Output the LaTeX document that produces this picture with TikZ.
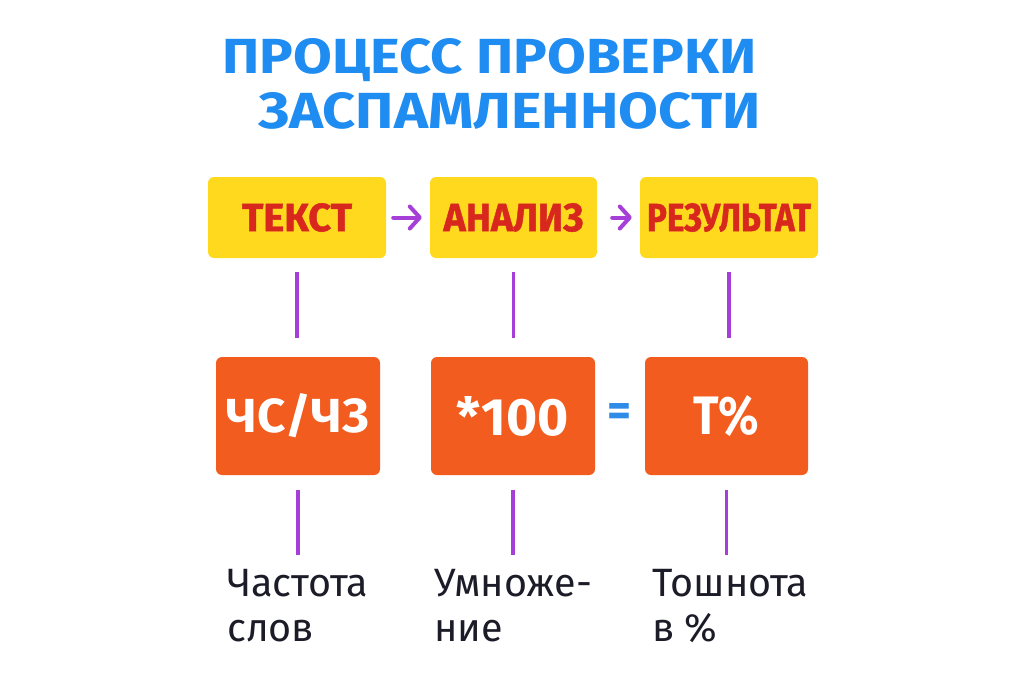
\documentclass[tikz,border=0pt]{standalone}
\usepackage{fontspec}
\setmainfont{Fira Sans}
\usetikzlibrary{arrows.meta}
\definecolor{titleblue}{HTML}{1E8CF0}
\definecolor{boxyellow}{HTML}{FFD91E}
\definecolor{boxred}{HTML}{D8281E}
\definecolor{boxorange}{HTML}{F25C1E}
\definecolor{linepurple}{HTML}{A53FD8}
\definecolor{eqblue}{HTML}{2E8BE8}
\definecolor{labeltext}{HTML}{1C1C28}
\tikzset{
  ybox/.style={fill=boxyellow, rounded corners=6pt, inner sep=0pt, minimum height=81pt, text=boxred, font=\bfseries\addfontfeatures{FakeBold=1.2}},
  obox/.style={fill=boxorange, rounded corners=6pt, inner sep=0pt, minimum height=118pt, minimum width=164pt, text=white, font=\bfseries},
  vline/.style={draw=linepurple, line width=3.5pt},
  harrow/.style={draw=linepurple, line width=4pt, line cap=round, -{Straight Barb[length=10pt,width=22pt,line cap=round,line join=round]}},
  lbl/.style={anchor=base west, inner sep=0pt, text=labeltext, font=\fontsize{39.5}{45}\selectfont, align=left},
  ttl/.style={anchor=base west, inner sep=0pt, text=titleblue, font=\bfseries}
}
\begin{document}
\begin{tikzpicture}[x=1pt,y=-1pt]
\useasboundingbox[fill=white] (0,0) rectangle (1024,683);
% title
\node[ttl] (t1) at (222,73) {\resizebox{534pt}{35pt}{ПРОЦЕСС ПРОВЕРКИ}};
\node[ttl] (t2) at (258,128) {\resizebox{502pt}{36pt}{ЗАСПАМЛЕННОСТИ}};
% yellow boxes
\node[ybox, minimum width=178pt] (y1) at (297,217.5) {\resizebox{110pt}{28pt}{ТЕКСТ}};
\node[ybox, minimum width=167pt] (y2) at (513.5,217.5) {\resizebox{140pt}{28pt}{АНАЛИЗ}};
\node[ybox, minimum width=178pt] (y3) at (729,217.5) {\resizebox{164pt}{28pt}{РЕЗУЛЬТАТ}};
% arrows
\draw[harrow, shorten <=7pt, shorten >=8pt] (y1.east) -- (y2.west);
\draw[harrow, shorten <=15pt, shorten >=8pt] (y2.east) -- (y3.west);
% orange boxes
\node[obox] (o1) at (298,416) {\resizebox{142pt}{39pt}{ЧС/ЧЗ}};
\node[obox] (o2) at (513,416) {\resizebox{112pt}{39pt}{*100}};
\node[obox, minimum width=163pt] (o3) at (726.5,416) {\resizebox{66pt}{39pt}{Т\%}};
\node[inner sep=0pt, text=eqblue, font=\bfseries] (eq) at (619,415) {\resizebox{24pt}{!}{=}};
% vertical lines top
\draw[vline, shorten <=14pt, shorten >=19pt] (y1.south) -- (y1.south |- o1.north);
\draw[vline, shorten <=14pt, shorten >=19pt] (y2.south) -- (y2.south |- o2.north);
\draw[vline, shorten <=14pt, shorten >=19pt] (y3.south) -- (y3.south |- o3.north);
% labels
\node[lbl] (l1) at (227,641) {Частота\\слов};
\node[lbl] (l2) at (434,641) {Умноже-\\ние};
\node[lbl] (l3) at (652,641) {Тошнота\\в \%};
\coordinate (e1) at (297,555);
\coordinate (e2) at (513,555);
\coordinate (e3) at (727,555);
\draw[vline, shorten <=15pt] (o1.south) -- (o1.south |- e1);
\draw[vline, shorten <=15pt] (o2.south) -- (o2.south |- e2);
\draw[vline, shorten <=15pt] (o3.south) -- (o3.south |- e3);
\end{tikzpicture}
\end{document}
